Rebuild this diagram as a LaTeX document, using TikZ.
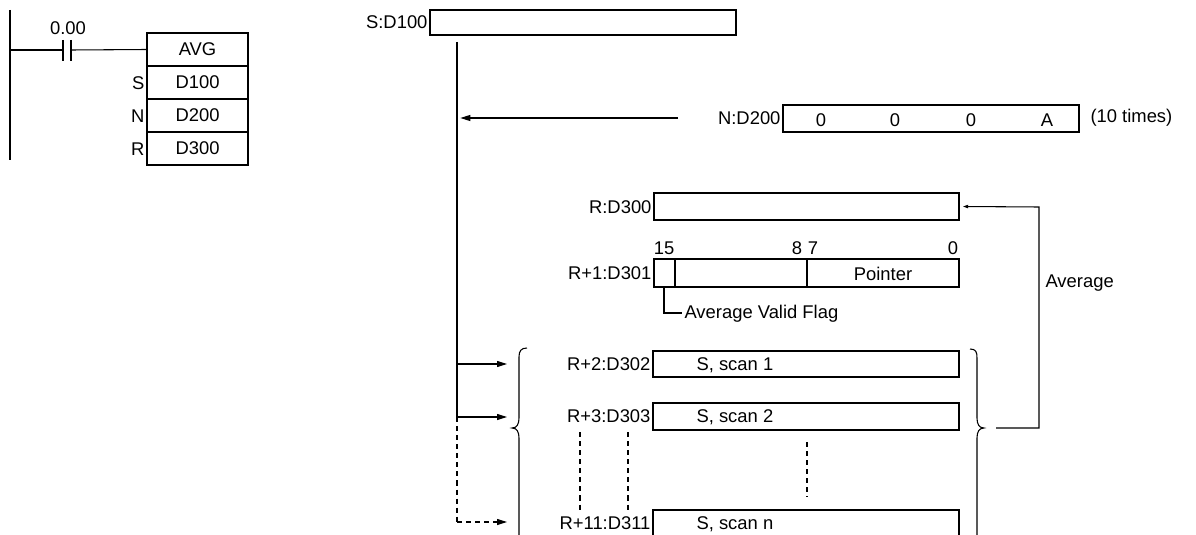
\documentclass[tikz,border=0pt]{standalone}
\usepackage{fontspec}
\setmainfont{Liberation Sans}
\usetikzlibrary{fit,arrows.meta}
\begin{document}
\begin{tikzpicture}[x=0.75pt,y=-0.75pt,line width=0.8pt,
  reg/.style={draw,inner sep=0pt},
  txt/.style={inner sep=0pt,font=\fontsize{13.8}{15}\selectfont},
  arr/.style={-{Triangle[length=7.5pt,width=4.5pt]}},
  sarr/.style={-{Triangle[length=4pt,width=2.5pt]}},
  dsh/.style={dash pattern=on 3.8pt off 3pt}]
\useasboundingbox (0,0) rectangle (1196,535);
\clip (0,0) rectangle (1196,535);
% ---- ladder ----
\coordinate (railtop) at (10,10);
\coordinate (railbot) at (10,160);
\draw (railtop) -- (railbot);
\coordinate (c1) at (10,50);
\coordinate (p1) at (63,50);
\coordinate (p2) at (71,50);
\draw (c1) -- (p1);
\draw (63,40) -- (63,61);
\draw (71,40) -- (71,61);
\node[txt] (addr) at (68,28) {0.00};
\node[reg,fit={(147,33)(248,66)}] (avg) {};
\node[txt] at (avg.center) {AVG};
\draw (p2) -- (avg.west);
\node[reg,fit={(147,66)(248,99)}] (ls) {};
\node[txt] at (ls.center) {D100};
\node[reg,fit={(147,99)(248,132)}] (ln) {};
\node[txt] at (ln.center) {D200};
\node[reg,fit={(147,132)(248,165)}] (lr) {};
\node[txt] at (lr.center) {D300};
\node[txt,anchor=east] (lsl) at (145,83) {S};
\node[txt,anchor=east] (lnl) at (145,116) {N};
\node[txt,anchor=east] (lrl) at (145,149) {R};
% ---- S ----
\node[reg,fit={(430,10)(736,35)}] (s) {};
\node[txt,anchor=east] (sl) at (428,22) {S:D100};
\coordinate (v0) at (457,42);
\coordinate (v1) at (457,118);
\coordinate (v2) at (457,364);
\coordinate (v3) at (457,417);
\coordinate (v4) at (457,522);
\draw (v0) -- (v3);
\draw[dsh] (v3) -- (v4);
% ---- N ----
\node[reg,fit={(783,105)(1079,132)}] (n) {};
\node[txt,anchor=east] (nl) at (781,118) {N:D200};
\node[txt] at (821,120) {0};
\node[txt] at (895,120) {0};
\node[txt] at (971,120) {0};
\node[txt] at (1047,120) {A};
\node[txt,anchor=west] (times) at (1090,118) {(10 times)};
\coordinate (nstart) at (678,118);
\draw[arr] (nstart) -- ([xshift=2.5pt]v1);
% ---- R ----
\node[reg,fit={(654,193)(959,220)}] (r0) {};
\node[txt,anchor=east] (r0l) at (652,207) {R:D300};
\node[reg,fit={(654,259)(959,287)}] (r1) {};
\node[txt,anchor=east] (r1l) at (652,273) {R+1:D301};
\draw (675,259) -- (675,287);
\draw (807,259) -- (807,287);
\node[txt] at (883,274) {Pointer};
\node[txt] at (664,248) {15};
\node[txt] at (797,248) {8};
\node[txt] at (813,248) {7};
\node[txt] at (953,248) {0};
\coordinate (f0) at (664,287);
\coordinate (f1) at (664,313);
\node[txt,anchor=west] (flag) at (684,314) {Average Valid Flag};
\draw (f0) -- (f1) -- ([xshift=-1.5pt]flag.west |- f1);
\node[reg,fit={(653,351)(959,377)}] (r2) {};
\node[txt,anchor=east] (r2l) at (651,364) {R+2:D302};
\node[txt,anchor=west] at (696,365) {S, scan 1};
\node[reg,fit={(653,403)(959,430)}] (r3) {};
\node[txt,anchor=east] (r3l) at (651,416) {R+3:D303};
\node[txt,anchor=west] at (696,417) {S, scan 2};
\node[reg,fit={(653,510)(959,540)}] (r11) {};
\node[txt,anchor=east] (r11l) at (651,523) {R+11:D311};
\node[txt,anchor=west] at (696,524) {S, scan n};
% dashed continuation marks
\draw[dsh] (580,432) -- (580,510);
\draw[dsh] (628,432) -- (628,510);
\draw[dsh] (807,442) -- (807,497);
% arrows into brace
\coordinate (a2) at (507,364);
\coordinate (a3) at (507,417);
\coordinate (a4) at (507,522);
\draw[arr] (v2) -- (a2);
\draw[arr] (v3) -- (a3);
\draw[arr,dsh] (v4) -- (a4);
% braces
\draw (527,348) .. controls (521,348) and (519,351) .. (519,357) -- (519,418)
  .. controls (519,424) and (517,428) .. (512,428)
  .. controls (517,428) and (519,432) .. (519,438) -- (519,545);
\draw (970,349) .. controls (976,349) and (977,352) .. (977,358) -- (977,418)
  .. controls (977,424) and (979,428) .. (984,428)
  .. controls (979,428) and (977,432) .. (977,438) -- (977,545);
% average feedback
\coordinate (b0) at (996,428);
\coordinate (b1) at (1039,428);
\coordinate (b2) at (1039,207);
\draw[sarr] (b0) -- (b1) -- (b2) -- ([xshift=2.5pt]r0.east);
\node[txt,anchor=west] (avgl) at (1045,283) {Average};
\end{tikzpicture}
\end{document}
